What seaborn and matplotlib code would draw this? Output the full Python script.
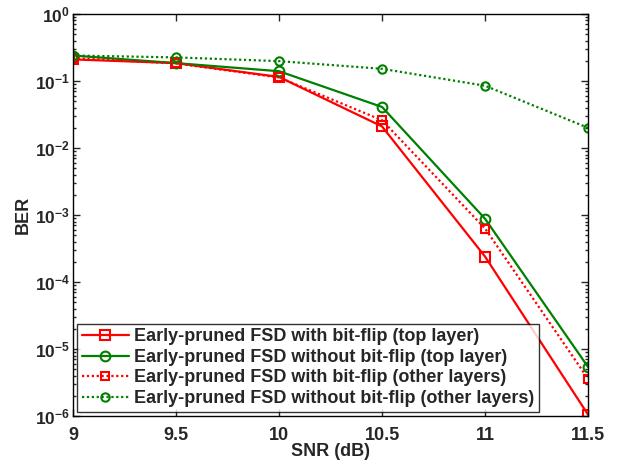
import matplotlib
matplotlib.use("Agg")
import matplotlib.pyplot as plt
import seaborn as sns
import pandas as pd
import numpy as np
from matplotlib.ticker import FixedLocator, LogLocator, NullFormatter, FuncFormatter

# BER curves
snr = [9, 9.5, 10, 10.5, 11, 11.5]
ber_bf_top = [0.21, 0.185, 0.115, 0.021, 2.4e-4, 1.05e-6]
ber_nobf_top = [0.24, 0.185, 0.14, 0.041, 8.8e-4, 5.4e-6]
ber_bf_other = [0.22, 0.183, 0.113, 0.026, 6.3e-4, 3.6e-6]
ber_nobf_other = [0.24, 0.225, 0.198, 0.152, 0.085, 0.020]

labels = [
    "Early-pruned FSD with bit-flip (top layer)",
    "Early-pruned FSD without bit-flip (top layer)",
    "Early-pruned FSD with bit-flip (other layers)",
    "Early-pruned FSD without bit-flip (other layers)",
]
series = [ber_bf_top, ber_nobf_top, ber_bf_other, ber_nobf_other]
decades = [1e-6, 1e-5, 1e-4, 1e-3, 1e-2, 1e-1, 1e0]

df = pd.concat([
    pd.DataFrame({"SNR": snr, "BER": vals, "curve": lab})
    for lab, vals in zip(labels, series)
], ignore_index=True)

sns.set_style("ticks")
plt.rcParams["font.family"] = ["Liberation Sans", "DejaVu Sans"]
plt.rcParams["font.weight"] = "bold"
plt.rcParams["mathtext.fontset"] = "custom"
plt.rcParams["mathtext.rm"] = "Liberation Sans:bold"
plt.rcParams["mathtext.bf"] = "Liberation Sans:bold"
plt.rcParams["mathtext.default"] = "bf"

red = "#ff0000"
green = "#008000"
colors = [red, green, red, green]
palette = dict(zip(labels, colors))
markers = dict(zip(labels, ["s", "o", "s", "o"]))
dashes = dict(zip(labels, ["", "", (1, 1.2), (1, 1.2)]))

fig = plt.figure(figsize=(6.23, 4.66), dpi=100)
ax = fig.add_axes([0.117, 0.107, 0.827, 0.863])

sns.lineplot(
    data=df, x="SNR", y="BER", hue="curve", style="curve",
    palette=palette, markers=markers, dashes=dashes,
    linewidth=1.6, markersize=7, markerfacecolor="none",
    markeredgewidth=1.5, ax=ax, legend=False,
)
for i, (line, c) in enumerate(zip(ax.get_lines(), colors)):
    line.set_markeredgecolor(c)
    if i >= 2:
        line.set_markersize(6)

ax.set_yscale("log")
ax.set_ylim(1e-6, 1)
ax.set_xlim(9, 11.5)
ax.xaxis.set_major_locator(FixedLocator(snr))
ax.set_xticklabels(["9", "9.5", "10", "10.5", "11", "11.5"])
ax.yaxis.set_major_locator(FixedLocator(decades))
ax.yaxis.set_major_formatter(FuncFormatter(lambda v, p: "$10^{%d}$" % round(np.log10(v))))
ax.yaxis.set_minor_locator(LogLocator(base=10, subs=np.arange(2, 10), numticks=20))
ax.yaxis.set_minor_formatter(NullFormatter())

ax.tick_params(which="both", direction="in", top=True, right=True,
               labelsize=13, width=1)
ax.tick_params(which="major", length=5)
ax.tick_params(axis="x", which="major", pad=8)
ax.tick_params(axis="y", which="major", pad=2, labelsize=12.5)
ax.tick_params(which="minor", length=2.5)
for s in ax.spines.values():
    s.set_linewidth(1)
    s.set_color("black")
ax.grid(False)

ax.set_xlabel("SNR (dB)", fontsize=13, fontweight="bold", labelpad=-1)
ax.set_ylabel("BER", fontsize=13, fontweight="bold", labelpad=2)

leg = ax.legend(ax.get_lines(), labels, loc="lower left", fontsize=13,
                frameon=True, fancybox=False, handlelength=2.6,
                borderaxespad=0.25, borderpad=0.25, labelspacing=0.2,
                handletextpad=0.3)
leg.get_frame().set_edgecolor("black")
leg.get_frame().set_linewidth(1)

fig.savefig("out.png", dpi=100)
